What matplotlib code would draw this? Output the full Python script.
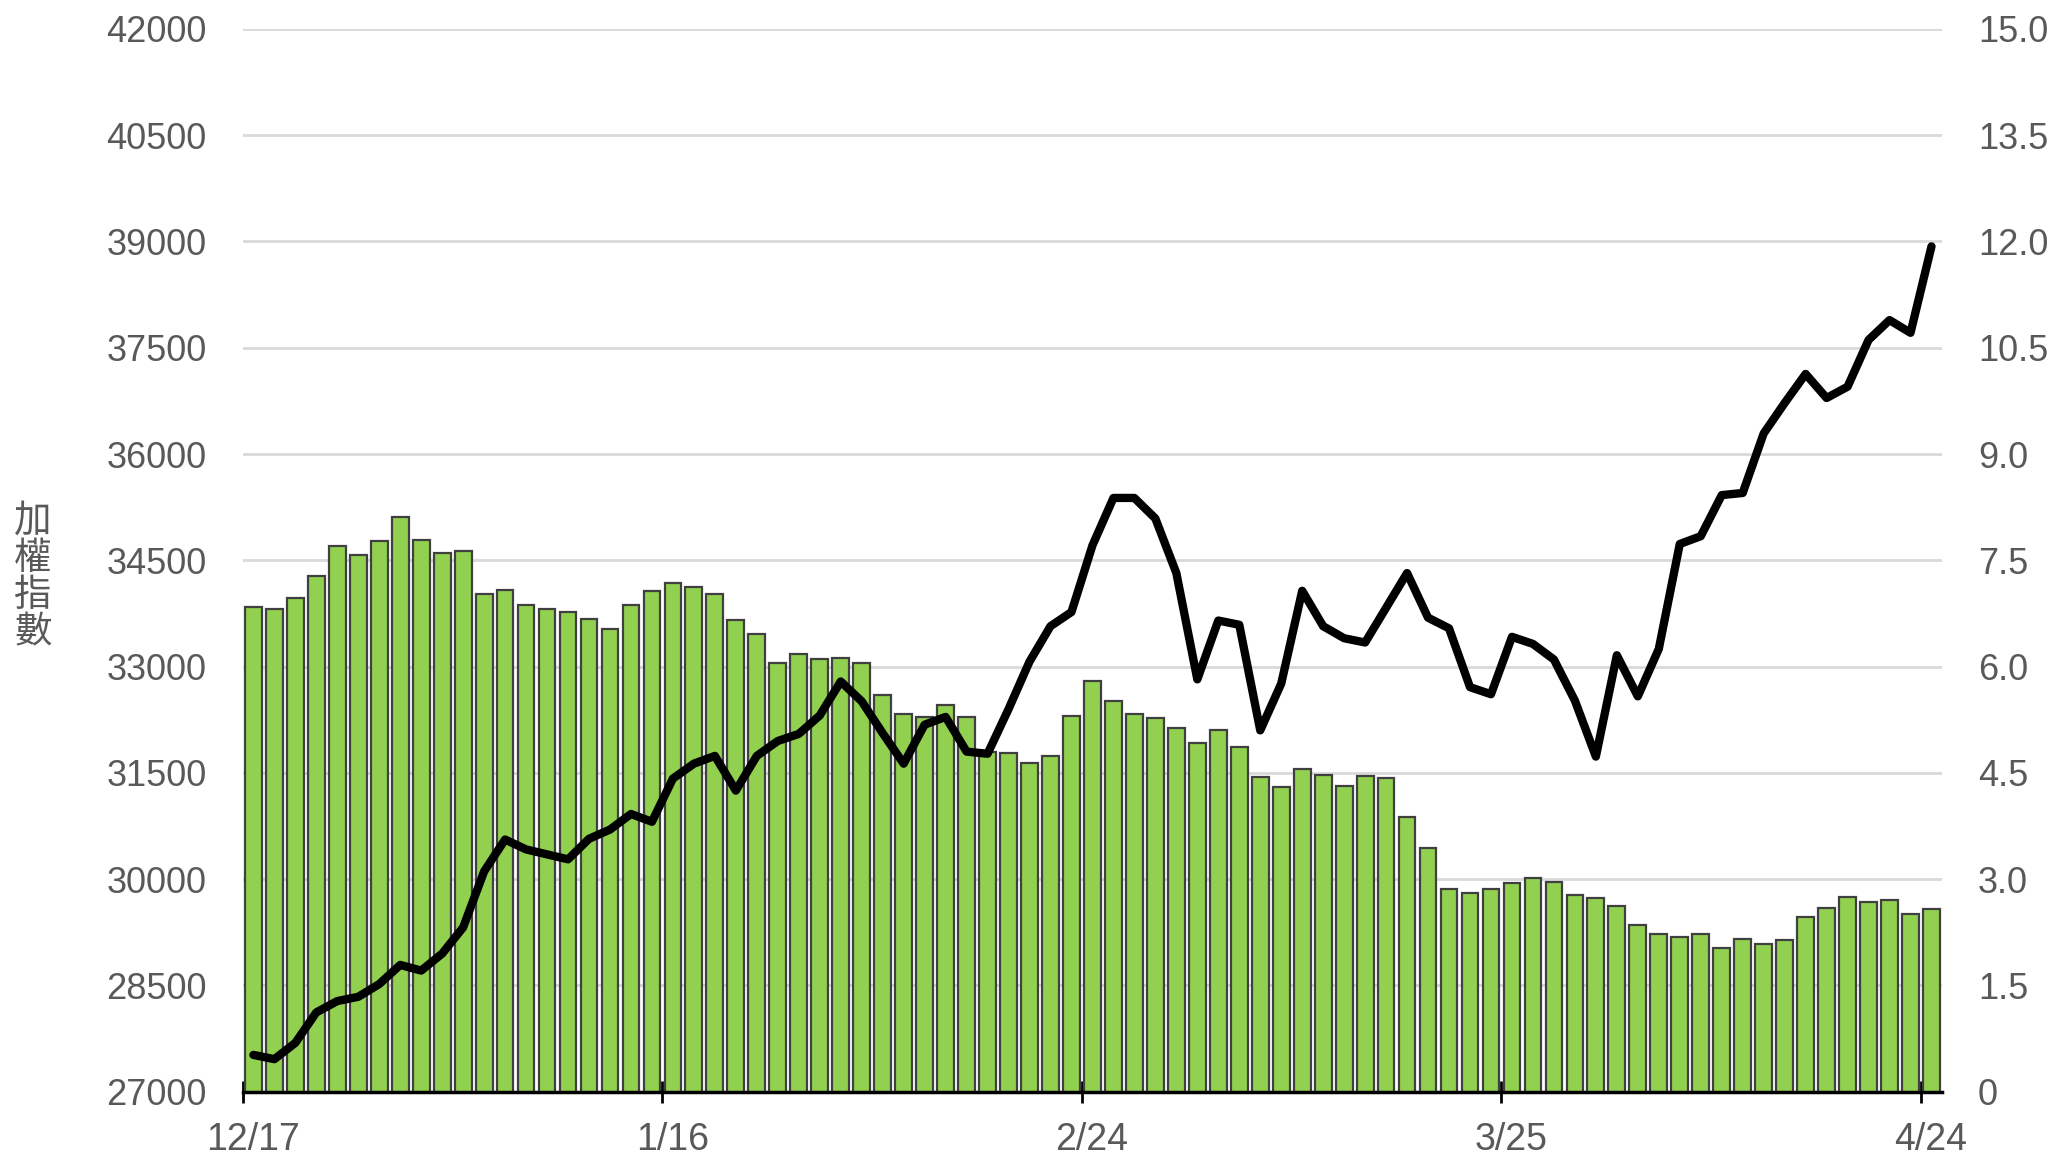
import numpy as np
import matplotlib
matplotlib.use("Agg")
import matplotlib.pyplot as plt
import matplotlib.transforms as mtrans

plt.rcParams['font.family'] = ['Liberation Sans', 'Noto Sans CJK TC', 'DejaVu Sans']

# 加權指數 (left axis, bars)
index_vals = [33848, 33811, 33970, 34274, 34701, 34579, 34768, 35104, 34793, 34604,
              34628, 34030, 34085, 33866, 33811, 33768, 33665, 33530, 33872, 34067,
              34183, 34122, 34018, 33652, 33463, 33049, 33171, 33110, 33122, 33055,
              32598, 32329, 32287, 32463, 32293, 31800, 31774, 31640, 31744, 32305,
              32799, 32512, 32329, 32274, 32140, 31921, 32104, 31872, 31439, 31305,
              31555, 31476, 31311, 31463, 31427, 30884, 30439, 29866, 29805, 29866,
              29939, 30018, 29963, 29774, 29738, 29616, 29348, 29226, 29183, 29220,
              29024, 29152, 29085, 29140, 29470, 29591, 29744, 29683, 29713, 29506,
              29573]

# right axis series (line)
line_vals = [0.52, 0.46, 0.69, 1.12, 1.28, 1.34, 1.52, 1.79, 1.71, 1.95,
             2.32, 3.11, 3.56, 3.42, 3.35, 3.28, 3.57, 3.70, 3.92, 3.81,
             4.42, 4.63, 4.74, 4.25, 4.74, 4.95, 5.05, 5.31, 5.79, 5.51,
             5.06, 4.63, 5.18, 5.29, 4.80, 4.77, 5.40, 6.07, 6.57, 6.77,
             7.71, 8.38, 8.38, 8.09, 7.32, 5.82, 6.65, 6.59, 5.10, 5.76,
             7.07, 6.57, 6.40, 6.34, 6.83, 7.32, 6.69, 6.54, 5.71, 5.61,
             6.42, 6.32, 6.10, 5.52, 4.73, 6.16, 5.58, 6.25, 7.73, 7.84,
             8.42, 8.45, 9.29, 9.72, 10.13, 9.79, 9.95, 10.61, 10.89, 10.71,
             11.93]

date_labels = ['12/17', '1/16', '2/24', '3/25', '4/24']
date_idx = [0, 20, 40, 60, 80]

left_ticks = list(range(27000, 42001, 1500))
right_ticks = [0, 1.5, 3.0, 4.5, 6.0, 7.5, 9.0, 10.5, 12.0, 13.5, 15.0]
right_labels = ['0', '1.5', '3.0', '4.5', '6.0', '7.5', '9.0', '10.5', '12.0', '13.5', '15.0']

txt = '#595959'
n = len(index_vals)
x = np.arange(n)

fig = plt.figure(figsize=(20.55, 11.58), dpi=100)
ax = fig.add_axes([0.1182, 0.0572, 0.945 - 0.1182, 0.9751 - 0.0572])

ax.bar(x, index_vals, width=0.8, bottom=0, color='#92d050', edgecolor='#404040',
       linewidth=1.6, zorder=2)
ax.set_ylim(27000, 42000)
ax.set_xlim(-0.5, n - 0.5)
ax.set_yticks(left_ticks)
ax.set_yticklabels([str(v) for v in left_ticks])
ax.grid(axis='y', color='#d9d9d9', linewidth=2)
ax.set_axisbelow(True)
for s in ['left', 'right', 'top']:
    ax.spines[s].set_visible(False)
ax.spines['bottom'].set_linewidth(2.5)
ax.spines['bottom'].set_color('black')
ax.spines['bottom'].set_zorder(5)
ax.tick_params(axis='y', length=0, pad=26, labelsize=26, labelcolor=txt)
ax.set_xticks([i - 0.5 for i in date_idx])
ax.set_xticklabels(date_labels)
ax.tick_params(axis='x', direction='inout', length=16, width=2, color='black',
               pad=14, labelsize=27, labelcolor=txt)
# labels sit a little right of their tick in the original
shift = mtrans.ScaledTranslation(0.10, 0, fig.dpi_scale_trans)
for lab in ax.get_xticklabels():
    lab.set_transform(lab.get_transform() + shift)

ax2 = ax.twinx()
ax2.plot(x, line_vals, color='black', linewidth=6, solid_joinstyle='round',
         solid_capstyle='round', zorder=3)
ax2.set_ylim(0, 15)
ax2.set_yticks(right_ticks)
ax2.set_yticklabels(right_labels)
for s in ['left', 'right', 'top', 'bottom']:
    ax2.spines[s].set_visible(False)
ax2.tick_params(axis='y', length=0, pad=26, labelsize=26, labelcolor=txt)

fig.text(33 / 2055, 1 - 577 / 1158, '加\n權\n指\n數', fontsize=27, color=txt,
         family=['Noto Sans CJK TC', 'DejaVu Sans'], ha='center', va='center',
         linespacing=0.95)

fig.savefig('out.png', dpi=100)
